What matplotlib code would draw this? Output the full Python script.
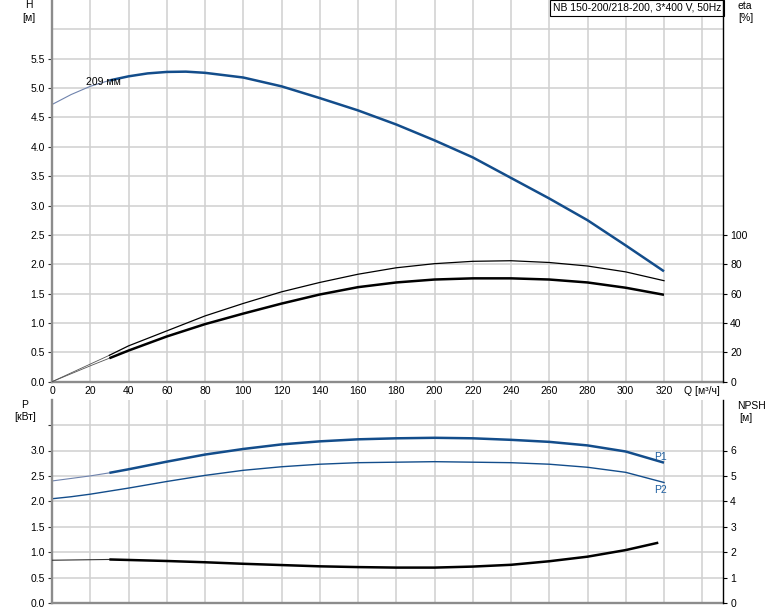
import numpy as np
import matplotlib
matplotlib.use("Agg")
import matplotlib.pyplot as plt

plt.rcParams["font.family"] = ["Liberation Sans", "DejaVu Sans"]
plt.rcParams["font.size"] = 7.5
plt.rcParams["lines.solid_joinstyle"] = "round"

# flow points (m3/h)
q = [0, 10, 20, 30, 40, 60, 80, 100, 120, 140, 160, 180, 200, 220, 240, 260, 280, 300, 320]
# head, m (read a little denser around the peak)
q_head = [0, 10, 20, 30, 40, 50, 60, 70, 80, 100, 120, 140, 160, 180, 200, 220, 240, 260,
          280, 300, 320]
head = [4.72, 4.89, 5.03, 5.13, 5.20, 5.25, 5.275, 5.28, 5.26, 5.18, 5.03, 4.83, 4.62, 4.38,
        4.11, 3.82, 3.47, 3.12, 2.75, 2.32, 1.88]
# efficiencies, %
eta_pump = [0, 6, 12, 18, 24.4, 34.6, 44.8, 53.3, 61.2, 67.6, 73.2, 77.6, 80.4, 82, 82.4,
            81.2, 78.8, 74.8, 68.8]
eta_total = [0, 5.4, 10.8, 16, 21.2, 30.8, 39.2, 46.4, 53.2, 59.4, 64.4, 67.6, 69.6, 70.4,
             70.4, 69.6, 67.6, 64, 59.2]
# power, kW
p1 = [2.40, 2.45, 2.50, 2.56, 2.63, 2.78, 2.92, 3.03, 3.12, 3.18, 3.22, 3.24, 3.25, 3.24,
      3.21, 3.17, 3.10, 2.98, 2.76]
p2 = [2.05, 2.09, 2.14, 2.20, 2.26, 2.39, 2.51, 2.61, 2.68, 2.73, 2.76, 2.77, 2.78, 2.77,
      2.76, 2.73, 2.67, 2.57, 2.37]
# NPSH, m
q_npsh = [0, 10, 20, 30, 40, 60, 80, 100, 120, 140, 160, 180, 200, 220, 240, 260, 280, 300, 317]
npsh = [1.68, 1.69, 1.70, 1.71, 1.69, 1.65, 1.60, 1.54, 1.49, 1.44, 1.41, 1.39, 1.39, 1.43,
        1.50, 1.64, 1.82, 2.08, 2.37]

x_ticks = list(range(0, 341, 20))
x_labels = [str(v) for v in x_ticks[:-1]] + ["Q [м³/ч]"]

blue = "#134d8b"
grid_c = "#d0d0d0"
spine_c = "#8c8c8c"
k = 3  # index of Q=30, where the thick part starts

fig = plt.figure(figsize=(7.74, 6.11), dpi=100)
ax1 = fig.add_axes([52 / 774, 1 - 381.7 / 611, 671.3 / 774, 381.7 / 611])
ax2 = fig.add_axes([52 / 774, 1 - 602.9 / 611, 671.3 / 774, 203.2 / 611])


def style(ax, top_y):
    ax.set_xlim(0, 351)
    ax.set_ylim(0, top_y)
    ax.set_xticks(x_ticks)
    ax.grid(True, color=grid_c, lw=1.1)
    ax.set_axisbelow(True)
    for s in ["top", "right"]:
        ax.spines[s].set_visible(False)
    for s in ["left", "bottom"]:
        ax.spines[s].set_color(spine_c)
        ax.spines[s].set_linewidth(1.7)
    ax.tick_params(axis="x", length=0, pad=3)
    ax.tick_params(axis="y", length=3, width=0.8, color="#333333", pad=2)


style(ax1, 6.5)
ax1.set_xticklabels(x_labels)
ax1.set_yticks(np.arange(0, 5.51, 0.5))
ax1.set_yticklabels([f"{v:.1f}" for v in np.arange(0, 5.51, 0.5)])
ax1.axhline(6.0, color=grid_c, lw=1.1, zorder=0)

style(ax2, 4.0)
ax2.set_xticklabels([])
ax2.set_yticks(np.arange(0, 3.51, 0.5))
ax2.set_yticklabels([f"{v:.1f}" for v in np.arange(0, 3.01, 0.5)] + [""])

# head curve
ax1.plot(q_head[:k + 1], head[:k + 1], color="#6f83ad", lw=0.8)
ax1.plot(q_head[k:], head[k:], color=blue, lw=1.8, solid_capstyle="butt")
ax1.text(18, 5.11, "209 мм", va="center", ha="left")

# efficiency on right axis
ax1r = ax1.twinx()
ax1r.set_ylim(0, 6.5 * 40)
ax1r.set_yticks(range(0, 101, 20))
for s in ["top", "left", "bottom"]:
    ax1r.spines[s].set_visible(False)
ax1r.spines["right"].set_linewidth(1.0)
ax1r.tick_params(axis="y", length=3, width=0.8, pad=2)
ax1r.plot(q[:k + 1], eta_pump[:k + 1], color="#555555", lw=0.6)
ax1r.plot(q[k:], eta_pump[k:], color="black", lw=0.9)
ax1r.plot(q[:k + 1], eta_total[:k + 1], color="#555555", lw=0.6)
ax1r.plot(q[k:], eta_total[k:], color="black", lw=1.8, solid_capstyle="butt")

# power curves
ax2.plot(q[:k + 1], p1[:k + 1], color="#6f83ad", lw=0.8)
ax2.plot(q[k:], p1[k:], color=blue, lw=1.8, solid_capstyle="butt")
ax2.plot(q, p2, color=blue, lw=1.0)
ax2.text(315, 2.88, "P1", color="#1f5fa0", va="center", ha="left")
ax2.text(315, 2.23, "P2", color="#1f5fa0", va="center", ha="left")

# NPSH on right axis
ax2r = ax2.twinx()
ax2r.set_ylim(0, 8)
ax2r.set_yticks(range(0, 7))
for s in ["top", "left", "bottom"]:
    ax2r.spines[s].set_visible(False)
ax2r.spines["right"].set_linewidth(1.0)
ax2r.tick_params(axis="y", length=3, width=0.8, pad=2)
ax2r.plot(q_npsh[:k + 1], npsh[:k + 1], color="#333333", lw=0.8)
ax2r.plot(q_npsh[k:], npsh[k:], color="black", lw=1.8, solid_capstyle="butt")

# title box
ax1.text(0.997, 0.993, "NB 150-200/218-200, 3*400 V, 50Hz", transform=ax1.transAxes,
         ha="right", va="top",
         bbox=dict(boxstyle="square,pad=0.3", fc="white", ec="black", lw=0.8))

# axis captions
fig.text(29 / 774, 1 - 5 / 611, "H", ha="center", va="center")
fig.text(29 / 774, 1 - 18 / 611, "[м]", ha="center", va="center")
fig.text(745 / 774, 1 - 6 / 611, "eta", ha="center", va="center")
fig.text(746 / 774, 1 - 18 / 611, "[%]", ha="center", va="center")
fig.text(25 / 774, 1 - 405 / 611, "P", ha="center", va="center")
fig.text(25.5 / 774, 1 - 417 / 611, "[кВт]", ha="center", va="center")
fig.text(751 / 774, 1 - 406 / 611, "NPSH", ha="center", va="center")
fig.text(746 / 774, 1 - 418 / 611, "[м]", ha="center", va="center")

fig.savefig("out.png", dpi=100)
